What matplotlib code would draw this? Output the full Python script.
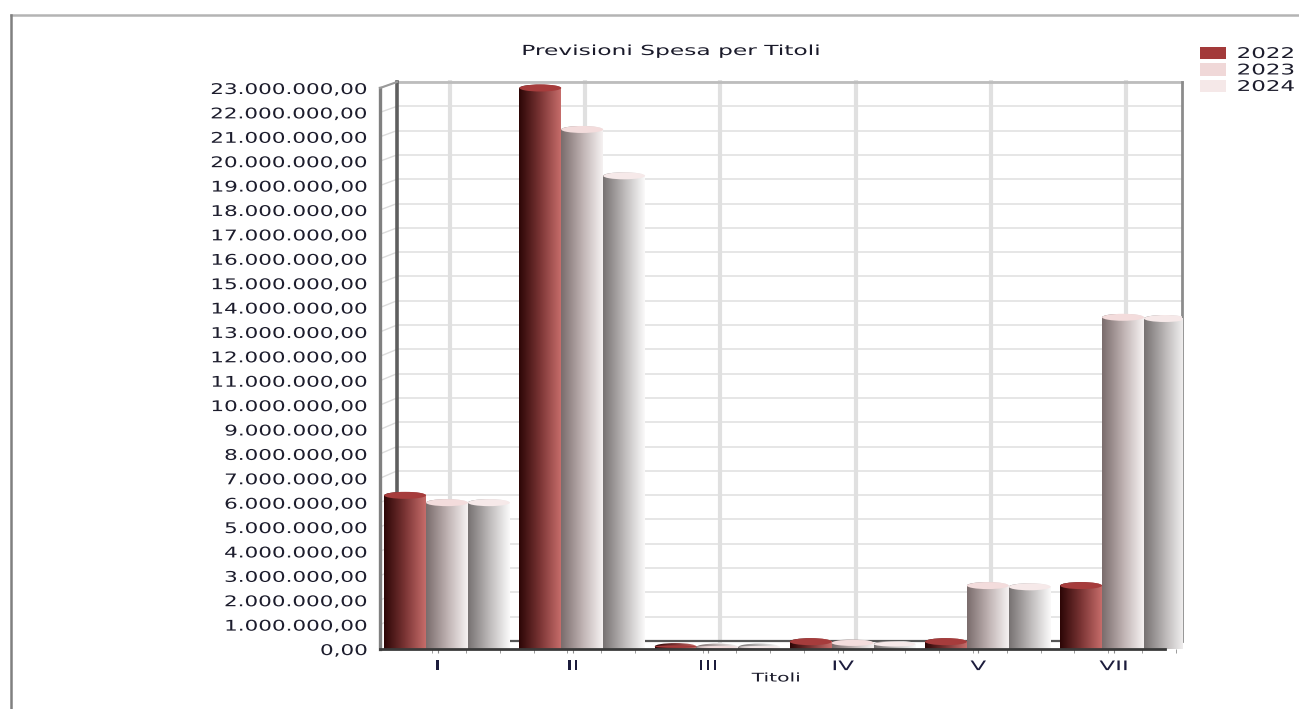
import numpy as np
import matplotlib.pyplot as plt
import matplotlib.patheffects as pe
from matplotlib.colors import LinearSegmentedColormap
from matplotlib.patches import Ellipse, Patch
from matplotlib.transforms import Affine2D

# dati
titoli = ['I', 'II', 'III', 'IV', 'V', 'VII']
anni = ['2022', '2023', '2024']
spesa_2022 = [6300000, 23000000, 100000, 300000, 300000, 2600000]
spesa_2023 = [6000000, 21300000, 80000, 250000, 2600000, 13600000]
spesa_2024 = [6000000, 19400000, 80000, 200000, 2550000, 13550000]
tick_valori = list(range(1000000, 24000000, 1000000))
tick_testi = ['0,00'] + [f'{v:,}'.replace(',', '.') + ',00' for v in tick_valori]

# colori: sinistra, centro, destra del cilindro, poi tappo e legenda
grad_2022 = ['#2c0606', '#7a3434', '#c66c6a']
grad_2023 = ['#7a6c6c', '#bdb0b0', '#f6f2f2']
grad_2024 = ['#777272', '#bcb8b8', '#fbfafa']
tappi = ['#a63c3c', '#f3dcdc', '#f6e9e9']
legenda = ['#a33a3a', '#f0d8d8', '#f5e8e8']


# allarga il testo in orizzontale, come nel font del grafico
class Largo(pe.AbstractPathEffect):
    def __init__(self, sx, ancora='left'):
        super().__init__()
        self.sx = sx
        self.ancora = ancora

    def draw_path(self, renderer, gc, tpath, affine, rgbFace=None):
        box = tpath.get_extents(affine)
        x = {'left': box.x0, 'right': box.x1, 'center': (box.x0 + box.x1) / 2}[self.ancora]
        t = Affine2D().translate(-x, 0).scale(self.sx, 1).translate(x, 0)
        renderer.draw_path(gc, tpath, affine + t, rgbFace)


W, H = 1299, 709
fig = plt.figure(figsize=(W / 100, H / 100), dpi=100, facecolor='white')

# cornice in alto e a sinistra
fig.add_artist(plt.Line2D([11 / W, 1], [1 - 15 / H, 1 - 15 / H], color='#b4b4b4', lw=1.8))
fig.add_artist(plt.Line2D([11 / W, 11 / W], [0, 1 - 15 / H], color='#808080', lw=1.8))

# assi: lo zero sta sul pavimento davanti, il muro dietro e' spostato di (dx, dy)
left, right, top, bottom = 380, 1182, 80, 649
ax = fig.add_axes([left / W, 1 - bottom / H, (right - left) / W, (bottom - top) / H])
px_x = 135.2
px_y = 561 / 23000000
x0 = (left - 447) / px_x
x1 = (right - 447) / px_x
dx = 17 / px_x
dy = 8 / px_y
ymax = (bottom - top) / px_y
fronte = (1165 - 447) / px_x


# quota sul muro di fondo: scala un po' piu' stretta di quella davanti
def muro(v):
    return v * 559 / 561 + dy


# griglia sul muro di fondo
for v in tick_valori:
    ax.plot([x0 + dx, x1], [muro(v), muro(v)], color='#e2e2e2', lw=1.2, zorder=1)
    ax.plot([x0, x0 + dx], [v, muro(v)], color='#dcdcdc', lw=1.0, zorder=1, clip_on=False)
for i in range(len(titoli)):
    xg = i + 3 / px_x
    ax.plot([xg, xg], [dy, muro(23000000)], color='#e0e0e0', lw=3, zorder=1)

# bordi del muro e del pavimento
ax.plot([x0 + dx, x1], [muro(23000000)] * 2, color='#bdbdbd', lw=2, zorder=2, clip_on=False)
ax.plot([x0 + dx] * 2, [dy, muro(23000000)], color='#5f5f5f', lw=2.6, zorder=2)
ax.plot([x1, x1], [dy, muro(23000000)], color='#8c8c8c', lw=2, zorder=2, clip_on=False)
ax.plot([x0 + dx, x1], [dy, dy], color='#555555', lw=1.6, zorder=2)
ax.plot([fronte, x1], [0, dy], color='#9a9a9a', lw=1.5, zorder=2, clip_on=False)
ax.plot([x0, x0], [0, 23000000], color='#808080', lw=2.4, zorder=2, clip_on=False)
ax.plot([x0, x0 + dx], [23000000, muro(23000000)], color='#9a9a9a', lw=1.5, zorder=2, clip_on=False)

# cilindri: corpo sfumato, ellisse sfumata in cima e tappo colorato
larg = 0.31
cap_h = 7 / px_y
gradiente = np.linspace(0, 1, 128).reshape(1, -1)
serie = [spesa_2022, spesa_2023, spesa_2024]
gradienti = [grad_2022, grad_2023, grad_2024]
for s, valori in enumerate(serie):
    cmap = LinearSegmentedColormap.from_list('g', gradienti[s])
    for i, v in enumerate(valori):
        xc = i + (s - 1) * larg
        z = 3 + s + i * 3
        ax.imshow(gradiente, cmap=cmap, aspect='auto', interpolation='bilinear',
                  extent=(xc - larg / 2, xc + larg / 2, 0, v), zorder=z)
        base = ax.imshow(gradiente, cmap=cmap, aspect='auto', interpolation='bilinear',
                         extent=(xc - larg / 2, xc + larg / 2, v - cap_h / 2, v + cap_h / 2),
                         zorder=z)
        base.set_clip_path(Ellipse((xc, v), larg, cap_h, transform=ax.transData))
        # sui cilindri bassissimi il tappo si riduce e resta visibile la sfumatura
        ax.add_patch(Ellipse((xc, v), larg, min(cap_h, v), facecolor=tappi[s],
                             edgecolor='none', zorder=z))

# pavimento davanti, sopra la base dei cilindri
ax.plot([x0, fronte], [0, 0], color='#3a3a3a', lw=2, zorder=40, clip_on=False)

for sp in ax.spines.values():
    sp.set_visible(False)
ax.patch.set_alpha(0)

# etichette asse y
ax.set_yticks([0] + tick_valori)
ax.set_yticklabels(tick_testi)
ax.tick_params(axis='y', length=0, pad=9)
for t in ax.get_yticklabels():
    t.set_fontsize(10.6)
    t.set_color('#1c1c2c')
    t.set_path_effects([Largo(1.46, 'right')])

# etichette asse x e tacche
ax.set_xticks([i - 0.07 for i in range(len(titoli))])
ax.set_xticklabels(titoli)
ax.set_xticks([i / 4 - 0.11 + k for k in range(6) for i in range(4)], minor=True)
ax.tick_params(axis='x', which='both', length=3, color='#8a8a8a', pad=5, labelsize=9.5)
for t in ax.get_xticklabels():
    t.set_color('#1c1c3c')
    t.set_path_effects([Largo(1.75, 'center')])

# i limiti vanno fissati dopo le tacche, che altrimenti li allargano
ax.set_xlim(x0, x1)
ax.set_ylim(0, ymax)

titolo = fig.text(671 / W, 1 - 51 / H, 'Previsioni Spesa per Titoli', ha='center', va='center',
                  fontsize=10, color='#1a1a2a')
titolo.set_path_effects([Largo(1.68, 'center')])
xlab = fig.text(776 / W, 1 - 678 / H, 'Titoli', ha='center', va='center',
                fontsize=8.6, color='#1a1a2a')
xlab.set_path_effects([Largo(1.7, 'center')])

# legenda
maniglie = [Patch(facecolor=c, edgecolor='none', label=a) for c, a in zip(legenda, anni)]
leg = ax.legend(handles=maniglie, loc='upper left', frameon=False,
                bbox_to_anchor=(1200 / W, 1 - 46 / H), bbox_transform=fig.transFigure,
                fontsize=10.6, handlelength=1.78, handleheight=0.9, handletextpad=0.75,
                labelspacing=0.1, borderpad=0, borderaxespad=0)
for t in leg.get_texts():
    t.set_color('#1c1c2c')
    t.set_path_effects([Largo(1.56, 'left')])

fig.savefig('out.png', dpi=100)
